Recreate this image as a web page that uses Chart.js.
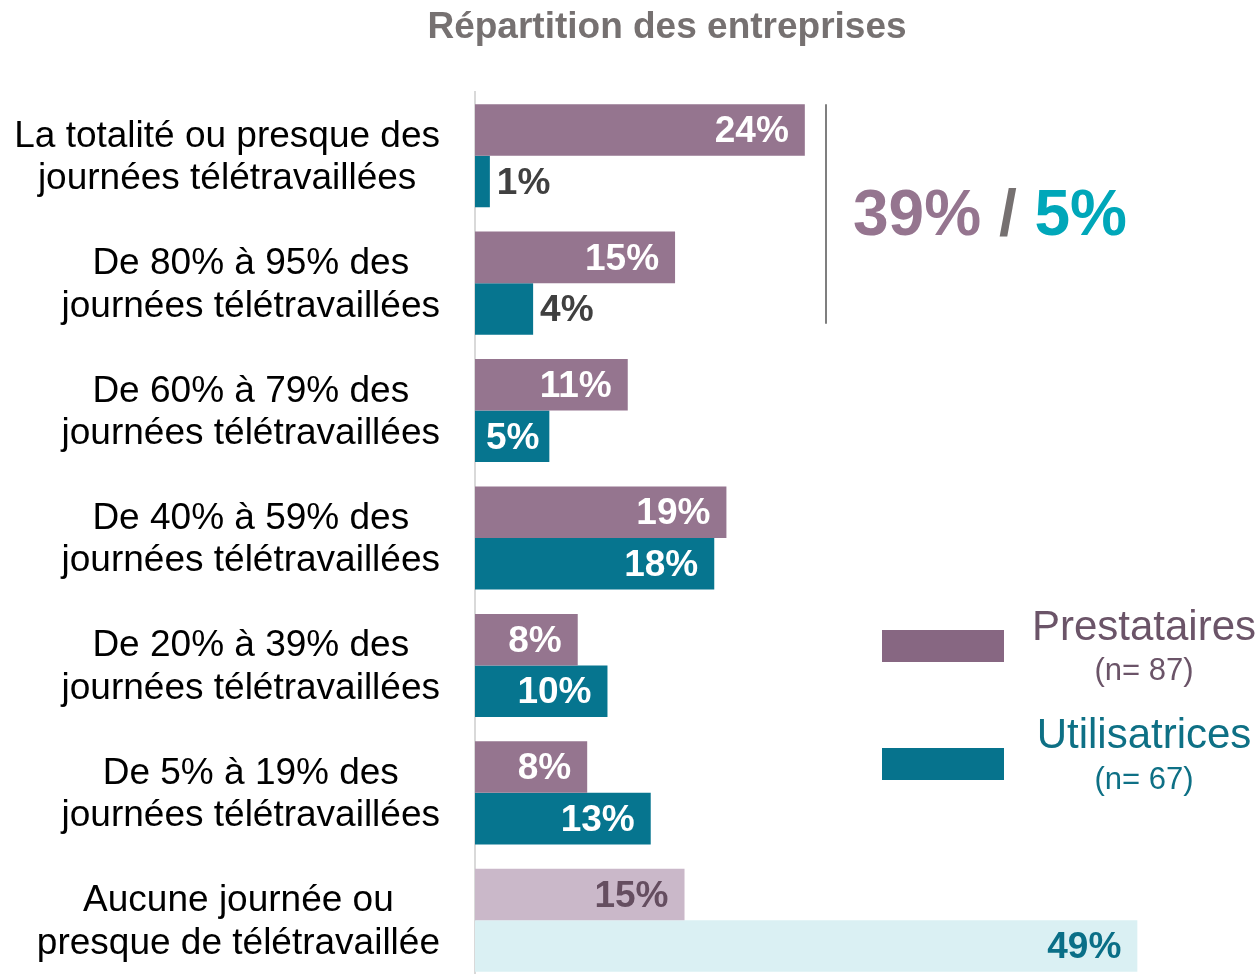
<!DOCTYPE html>
<html>
<head>
<meta charset="utf-8">
<script src="https://cdn.jsdelivr.net/npm/chart.js@4/dist/chart.umd.min.js"></script>
<style>
html,body{margin:0;padding:0;background:#fff;overflow:hidden;width:1259px;height:974px;}
#wrap{position:relative;width:1259px;height:974px;overflow:hidden;}
canvas{display:block;}
</style>
</head>
<body>
<div id="wrap"><canvas id="c" width="1259" height="984"></canvas></div>
<script>
const categories = [
  ["La totalité ou presque des", "journées télétravaillées"],
  ["De 80% à 95% des", "journées télétravaillées"],
  ["De 60% à 79% des", "journées télétravaillées"],
  ["De 40% à 59% des", "journées télétravaillées"],
  ["De 20% à 39% des", "journées télétravaillées"],
  ["De 5% à 19% des", "journées télétravaillées"],
  ["Aucune journée ou", "presque de télétravaillée"]
];
const prestatairesValues = [24.4, 14.8, 11.3, 18.6, 7.6, 8.3, 15.5];
const utilisatricesValues = [1.1, 4.3, 5.5, 17.7, 9.8, 13.0, 49.0];
const prestatairesLabels = ["24%", "15%", "11%", "19%", "8%", "8%", "15%"];
const utilisatricesLabels = ["1%", "4%", "5%", "18%", "10%", "13%", "49%"];
const seriesNames = ["Prestataires", "Utilisatrices"];
const sampleSizes = ["(n= 87)", "(n= 67)"];
const summaryPrest = "39%";
const summaryUtil = "5%";
const title = "Répartition des entreprises";

const FONT = "'Liberation Sans', Arial, sans-serif";
const prestColors = prestatairesValues.map((v, i) => i === 6 ? '#CAB8C9' : '#95758F');
const utilColors = utilisatricesValues.map((v, i) => i === 6 ? '#DAF0F3' : '#06758F');

const overlay = {
  id: 'overlay',
  afterDatasetsDraw(chart) {
    const ctx = chart.ctx;
    const ca = chart.chartArea;
    const yScale = chart.scales.y;
    ctx.save();
    // Title
    ctx.font = "bold 37px " + FONT;
    ctx.fillStyle = '#767171';
    ctx.textAlign = 'center';
    ctx.textBaseline = 'middle';
    ctx.fillText(title, 667, 28);

    // Category labels: block right-aligned, lines centered
    ctx.font = "37px " + FONT;
    ctx.fillStyle = '#000000';
    categories.forEach((lines, i) => {
      const cy = yScale.getPixelForValue(i) + 2;
      const widest = Math.max(...lines.map(l => ctx.measureText(l).width));
      const cx = ca.left - 35 - widest / 2;
      const lh = 42.5;
      lines.forEach((l, j) => {
        ctx.fillText(l, cx, cy + (j - (lines.length - 1) / 2) * lh);
      });
    });

    // Data labels
    const labelSets = [prestatairesLabels, utilisatricesLabels];
    ctx.font = "bold 37px " + FONT;
    chart.data.datasets.forEach((ds, di) => {
      const meta = chart.getDatasetMeta(di);
      meta.data.forEach((bar, i) => {
        const txt = labelSets[di][i];
        const w = ctx.measureText(txt).width;
        const len = bar.x - bar.base;
        let x, color;
        if (len > w + 18) {
          x = Math.max(bar.x - 16 - w, bar.base + 11);
          color = '#FFFFFF';
        } else {
          x = bar.x + 7;
          color = '#404040';
        }
        if (i === 6) color = di === 0 ? '#654E60' : '#0A6F87';
        ctx.fillStyle = color;
        ctx.textAlign = 'left';
        ctx.fillText(txt, x, bar.y + 2);
      });
    });

    // Bracket line
    const m0 = chart.getDatasetMeta(0).data[0];
    const m1 = chart.getDatasetMeta(1).data[1];
    ctx.strokeStyle = '#7F7F7F';
    ctx.lineWidth = 2;
    ctx.beginPath();
    ctx.moveTo(ca.left + 351, m0.y - m0.height / 2);
    ctx.lineTo(ca.left + 351, m1.y + m1.height / 2 - 11);
    ctx.stroke();

    // Summary
    ctx.font = "bold 64px " + FONT;
    ctx.textAlign = 'left';
    const parts = [[summaryPrest, '#95758F'], [' / ', '#767171'], [summaryUtil, '#00A7B9']];
    let sx = 853;
    parts.forEach(([t, c]) => {
      ctx.fillStyle = c;
      ctx.fillText(t, sx, 217);
      sx += ctx.measureText(t).width;
    });

    // Legend
    const legendCols = [['#876782', '#6B5468'], ['#06738D', '#0E7085']];
    const boxY = [630, 748];
    const nameY = [628, 736];
    const nY = [671, 780];
    for (let k = 0; k < 2; k++) {
      ctx.fillStyle = legendCols[k][0];
      ctx.fillRect(882, boxY[k], 122, 32);
      ctx.fillStyle = legendCols[k][1];
      ctx.textAlign = 'center';
      ctx.font = "42px " + FONT;
      ctx.fillText(seriesNames[k], 1144, nameY[k]);
      ctx.font = "31px " + FONT;
      ctx.fillText(sampleSizes[k], 1144, nY[k]);
    }
    ctx.restore();
  }
};

new Chart(document.getElementById('c'), {
  type: 'bar',
  data: {
    labels: categories.map(c => c.join(' ')),
    datasets: [
      { label: seriesNames[0], data: prestatairesValues, backgroundColor: prestColors, borderWidth: 0 },
      { label: seriesNames[1], data: utilisatricesValues, backgroundColor: utilColors, borderWidth: 0 }
    ]
  },
  options: {
    indexAxis: 'y',
    responsive: false,
    animation: false,
    events: [],
    layout: { padding: { top: 92, bottom: 0, left: 0, right: 0 } },
    datasets: { bar: { categoryPercentage: 0.809, barPercentage: 1 } },
    plugins: { legend: { display: false }, tooltip: { enabled: false }, title: { display: false } },
    scales: {
      x: { display: false, min: 0, max: 58 },
      y: {
        display: true,
        ticks: { display: false },
        grid: { display: false, drawTicks: false },
        border: { display: true, color: '#D9D9D9', width: 2 },
        afterFit(scale) { scale.width = 475; }
      }
    }
  },
  plugins: [overlay]
});
</script>
</body>
</html>
